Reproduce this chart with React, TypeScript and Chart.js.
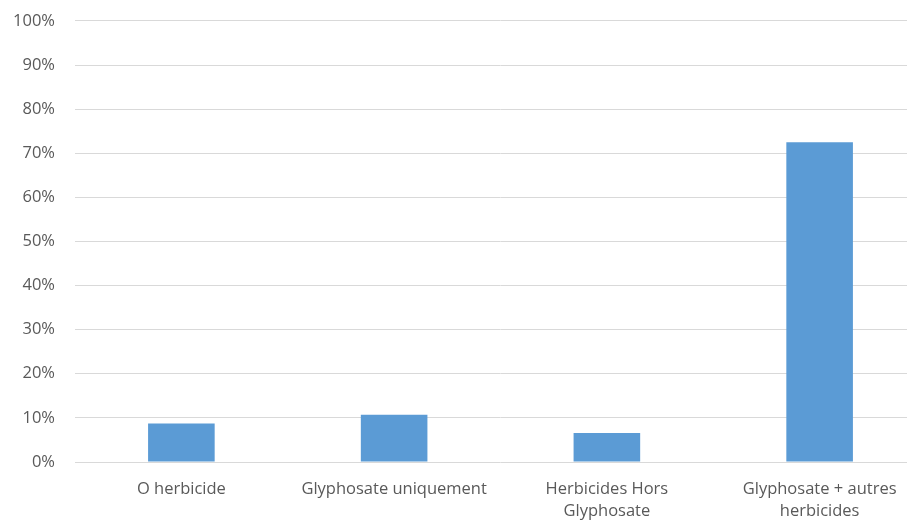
import React, { useEffect, useRef } from "react";
import { Chart, registerables } from "chart.js";

Chart.register(...registerables);

const categories: (string | string[])[] = [
  "O herbicide",
  "Glyphosate uniquement",
  ["Herbicides Hors", "Glyphosate"],
  ["Glyphosate + autres", "herbicides"],
];
const shares: number[] = [8.7, 10.7, 6.6, 72.5];
const yTicks: number[] = [0, 10, 20, 30, 40, 50, 60, 70, 80, 90, 100];

const BAR_COLOR = "#5b9bd5";
const GRID_COLOR = "#d9d9d9";
const TEXT_COLOR = "#595959";
const FONT = "'Open Sans', 'Noto Sans', sans-serif";

export default function App() {
  const canvasRef = useRef<HTMLCanvasElement | null>(null);

  useEffect(() => {
    const canvas = canvasRef.current;
    if (!canvas) return;
    const chart = new Chart(canvas, {
      type: "bar",
      data: {
        labels: categories,
        datasets: [
          {
            data: shares,
            backgroundColor: BAR_COLOR,
            borderWidth: 0,
            categoryPercentage: 1,
            barPercentage: 0.313,
          },
        ],
      },
      options: {
        responsive: false,
        animation: false,
        layout: { padding: { top: 12, right: 14, left: 0, bottom: 0 } },
        plugins: {
          legend: { display: false },
          tooltip: { enabled: false },
          title: { display: false },
        },
        scales: {
          x: {
            grid: { display: false, drawTicks: false },
            border: { display: false },
            ticks: {
              color: TEXT_COLOR,
              font: { family: FONT, size: 16.5, lineHeight: 1.3 },
              padding: 17,
              maxRotation: 0,
              autoSkip: false,
            },
            afterFit: (s: any) => {
              s.height = 63;
            },
          },
          y: {
            min: 0,
            max: 100,
            afterBuildTicks: (s: any) => {
              s.ticks = yTicks.map((v) => ({ value: v }));
            },
            grid: { color: GRID_COLOR, lineWidth: 1, drawTicks: false },
            border: { display: false },
            ticks: {
              color: TEXT_COLOR,
              font: { family: FONT, size: 16.5 },
              padding: 20,
              callback: (v: any) => `${v}%`,
            },
            afterFit: (s: any) => {
              s.width = 75;
            },
          },
        },
      },
    });
    return () => chart.destroy();
  }, []);

  return (
    <div
      style={{
        position: "fixed",
        left: 0,
        top: 0,
        width: 907,
        height: 520,
        overflow: "hidden",
        background: "#ffffff",
      }}
    >
      <canvas
        ref={canvasRef}
        width={940}
        height={534}
        style={{ position: "absolute", left: 0, top: -9, width: 940, height: 534 }}
      />
    </div>
  );
}
